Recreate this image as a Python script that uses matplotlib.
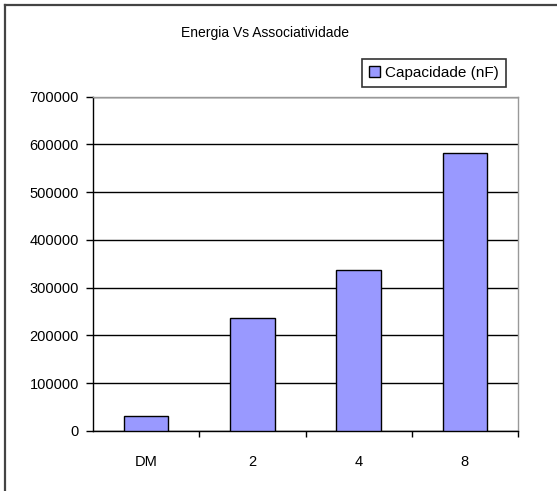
import matplotlib
matplotlib.use("Agg")
import matplotlib.pyplot as plt
from matplotlib.lines import Line2D
from matplotlib.patches import Patch

plt.rcParams['font.family'] = ['Liberation Sans', 'DejaVu Sans']

categories = ["DM", "2", "4", "8"]
capacidade = [32000, 236000, 337000, 582000]
yticks = [0, 100000, 200000, 300000, 400000, 500000, 600000, 700000]
title = "Energia Vs Associatividade"
series_name = "Capacidade (nF)"

W, H = 557, 491
fig = plt.figure(figsize=(W / 100, H / 100), dpi=100)
fig.patch.set_facecolor("white")

# chart-area frame (top and left edges)
fig.add_artist(Line2D([5 / W, 5 / W], [0, 1 - 5 / H], transform=fig.transFigure,
                      color="#444444", lw=1.6))
fig.add_artist(Line2D([5 / W, 1], [1 - 5 / H, 1 - 5 / H], transform=fig.transFigure,
                      color="#444444", lw=1.6))

ax = fig.add_axes([93 / W, 1 - 431 / H, (518 - 93) / W, (431 - 96.5) / H])
x = list(range(len(categories)))
ax.bar(x, capacidade, width=0.42, color="#9999FF", edgecolor="black",
       linewidth=1.0, zorder=3)

ax.set_xlim(-0.5, len(categories) - 0.5)
ax.set_ylim(0, 700000)
ax.set_yticks(yticks)
ax.set_yticklabels([str(v) for v in yticks], fontsize=10.5)
ax.yaxis.grid(True, color="black", linewidth=1.0, zorder=0)
ax.set_axisbelow(True)

ax.set_xticks(x)
ax.set_xticklabels(categories, fontsize=10.5)
ax.tick_params(axis="x", which="major", length=0, pad=17)
ax.set_xticks([i + 0.5 for i in x], minor=True)
ax.tick_params(axis="x", which="minor", length=4, width=1, direction="out")
ax.tick_params(axis="y", length=5, width=1, direction="out", pad=5)

for side in ("top", "right"):
    ax.spines[side].set_color("#999999")
    ax.spines[side].set_linewidth(1.0)
for side in ("left", "bottom"):
    ax.spines[side].set_color("black")
    ax.spines[side].set_linewidth(1.0)

fig.text(265 / W, 1 - 33 / H, title, ha="center", va="center", fontsize=10)

handle = Patch(facecolor="#9999FF", edgecolor="black", linewidth=1.0)
leg = fig.legend([handle], [series_name], loc="upper right",
                 bbox_to_anchor=(506 / W, 1 - 59 / H), fontsize=11,
                 frameon=True, fancybox=False, edgecolor="black",
                 handlelength=0.75, handleheight=0.75, handletextpad=0.35,
                 borderpad=0.45, borderaxespad=0)
leg.get_frame().set_linewidth(1.2)

fig.savefig("out.png", dpi=100, facecolor="white")
